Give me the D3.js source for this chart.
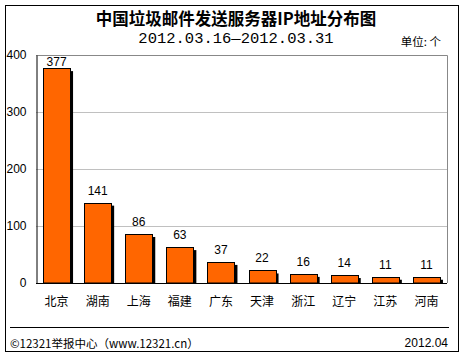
<!DOCTYPE html>
<html><head><meta charset="utf-8">
<script src="https://cdn.jsdelivr.net/npm/d3@7/dist/d3.min.js"></script>
<style>body{margin:0;background:#fff}svg{display:block}</style>
</head><body>
<svg id="c" width="466" height="357"></svg>
<script>
const categories = ["北京","湖南","上海","福建","广东","天津","浙江","辽宁","江苏","河南"];
const values = [377,141,86,63,37,22,16,14,11,11];
const yTicks = [0,100,200,300,400];

const svg = d3.select("#c");
const cjk = "'Noto Sans CJK SC', sans-serif";
const L = 36, R = 447, T = 55, B = 283;

// outer frame
svg.append("rect").attr("x",5.5).attr("y",5.5).attr("width",453).attr("height",346)
  .attr("fill","none").attr("stroke","#000").attr("stroke-width",1);

svg.append("text").attr("x",236).attr("y",18).attr("text-anchor","middle")
  .attr("dominant-baseline","central").style("font-family",cjk).style("font-size","16.5px")
  .style("font-weight","bold").text("中国垃圾邮件发送服务器IP地址分布图");
svg.append("text").attr("x",236).attr("y",39).attr("text-anchor","middle")
  .attr("dominant-baseline","central").style("font-family","'Liberation Mono', monospace")
  .style("font-size","15.5px").text("2012.03.16—2012.03.31");
svg.append("text").attr("x",441).attr("y",41).attr("text-anchor","end")
  .attr("dominant-baseline","central").style("font-family",cjk).style("font-size","11.5px")
  .text("单位: 个");

const x = d3.scaleBand().domain(categories).range([L,R]);
const y = d3.scaleLinear().domain([0,400]).range([B,T]);

// gridlines
svg.append("g").selectAll("line").data(yTicks.filter(d=>d>0&&d<400)).join("line")
  .attr("x1",L).attr("x2",R).attr("y1",d=>Math.round(y(d))+0.5).attr("y2",d=>Math.round(y(d))+0.5)
  .attr("stroke","#c0c0c0");
// plot border top/right
svg.append("path").attr("d",`M${L},${T+0.5}H${R+0.5}V${B}`).attr("fill","none").attr("stroke","#888");

// y axis
const yAxis = d3.axisLeft(y).tickValues(yTicks).tickSize(0).tickPadding(10);
const gy = svg.append("g").attr("transform",`translate(${L+0.5},0)`).call(yAxis);
gy.select(".domain").attr("stroke","#000");
gy.selectAll("text").style("font-family","'Liberation Sans', Arial, sans-serif").style("font-size","12px").attr("fill","#000");

const bw = 27;
const cx = d => x(d) + x.bandwidth()/2;
// shadows
svg.append("g").selectAll("rect").data(values).join("rect")
  .attr("x",(d,i)=>cx(categories[i]) - bw/2 + 3)
  .attr("y",d=>y(d)+3).attr("width",bw).attr("height",d=>B - y(d) - 3)
  .attr("fill","#000");
// bars
svg.append("g").selectAll("rect").data(values).join("rect")
  .attr("x",(d,i)=>Math.round(cx(categories[i]) - bw/2)+0.5)
  .attr("y",d=>Math.round(y(d))+0.5).attr("width",bw).attr("height",d=>B - Math.round(y(d)) - 0.5)
  .attr("fill","#FF6600").attr("stroke","#000").attr("stroke-width",1);
// value labels
svg.append("g").selectAll("text").data(values).join("text")
  .attr("x",(d,i)=>cx(categories[i]))
  .attr("y",d=>Math.max(y(d)-12, T+7))
  .attr("text-anchor","middle").attr("dominant-baseline","central")
  .style("font-family","'Liberation Sans', Arial, sans-serif").style("font-size","12px")
  .text(d=>d);

// x axis
const xAxis = d3.axisBottom(x).tickSize(0).tickPadding(14);
const gx = svg.append("g").attr("transform",`translate(0,${B+0.5})`).call(xAxis);
gx.select(".domain").attr("stroke","#000").attr("d",`M${L},0H${R}`);
gx.selectAll("text").style("font-family",cjk).style("font-size","12px").attr("fill","#000");

// footer
svg.append("line").attr("x1",10).attr("x2",449).attr("y1",327.5).attr("y2",327.5).attr("stroke","#000");
svg.append("text").attr("x",10).attr("y",343).attr("dominant-baseline","central")
  .style("font-family",cjk).style("font-size","11.5px").text("©12321举报中心（www.12321.cn）");
svg.append("text").attr("x",448).attr("y",343).attr("text-anchor","end").attr("dominant-baseline","central")
  .style("font-family","'Liberation Sans', Arial, sans-serif").style("font-size","12px").text("2012.04");
</script>
</body></html>
